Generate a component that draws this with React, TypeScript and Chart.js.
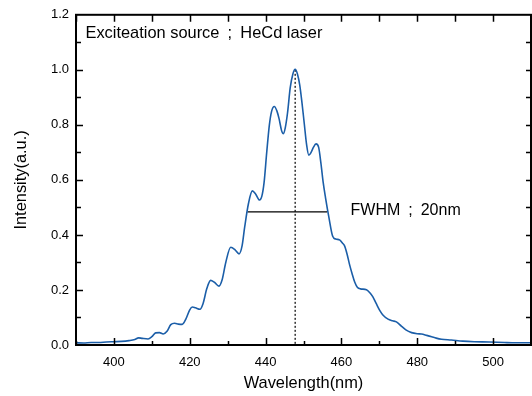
import React, { useEffect, useRef } from "react";
import { Chart, registerables } from "chart.js";

Chart.register(...registerables);

// ---- data ----
const wavelengths = [
  390, 392, 394, 396, 398, 400, 402, 404, 405.5, 406.5, 407.5, 409, 410, 411, 412, 413, 414, 415, 416, 417, 418,
  419, 420, 420.7, 421.5, 422.7, 423.5, 424.5, 425.5, 426.5, 427.7, 428.5, 429.5, 430.8, 432, 433, 433.8, 434.5,
  435.5, 436.5, 437.4, 438.4, 439, 439.6, 440.3, 441, 441.6, 442.3, 443, 443.6, 444.2, 444.7, 445.2, 445.8, 446.5,
  447.2, 447.8, 448.4, 449, 449.6, 450.2, 450.8, 451.4, 452, 452.6, 453.3, 454, 454.6, 455.2, 455.8, 456.7, 457.7,
  458.5, 459.5, 460.3, 460.8, 461.5, 462.1, 462.8, 463.5, 464.2, 465, 466.6, 467.5, 468.3, 469.2, 470.1, 471,
  472.3, 473.5, 474.5, 475.8, 477, 478.5, 480, 481.1, 482.5, 483.8, 485, 486.4, 489, 492, 495, 499, 503, 506, 510,
];
const intensities = [
  0.008, 0.007, 0.009, 0.009, 0.011, 0.012, 0.013, 0.016, 0.02, 0.026, 0.024, 0.022, 0.03, 0.044, 0.045, 0.04,
  0.05, 0.074, 0.079, 0.076, 0.075, 0.095, 0.128, 0.138, 0.135, 0.13, 0.15, 0.205, 0.235, 0.228, 0.214, 0.235,
  0.3, 0.355, 0.345, 0.331, 0.36, 0.43, 0.515, 0.56, 0.548, 0.527, 0.54, 0.59, 0.7, 0.8, 0.85, 0.867, 0.85, 0.82,
  0.78, 0.768, 0.79, 0.845, 0.935, 0.985, 1.002, 0.985, 0.945, 0.88, 0.805, 0.73, 0.69, 0.7, 0.718, 0.731, 0.718,
  0.66, 0.59, 0.536, 0.464, 0.395, 0.385, 0.382, 0.37, 0.361, 0.33, 0.295, 0.26, 0.229, 0.21, 0.204, 0.201, 0.19,
  0.175, 0.15, 0.126, 0.108, 0.094, 0.088, 0.084, 0.069, 0.055, 0.045, 0.041, 0.04, 0.035, 0.03, 0.025, 0.021,
  0.018, 0.014, 0.012, 0.011, 0.009, 0.008, 0.008,
];

const peakLineX = [447.8, 447.8];
const peakLineY = [1.0, 0];
const fwhmLineX = [435.2, 456.2];
const fwhmLineY = [0.484, 0.484];

const xRange = [390, 510];
const yRange = [0, 1.2];
const xTickLabels = [400, 420, 440, 460, 480, 500];
const yTickLabels = [0, 0.2, 0.4, 0.6, 0.8, 1.0, 1.2];
const xMinorTicks = [390, 400, 410, 420, 430, 440, 450, 460, 470, 480, 490, 500, 510];
const yMinorTicks = [0.1, 0.2, 0.3, 0.4, 0.5, 0.6, 0.7, 0.8, 0.9, 1.0, 1.1];

const xTitle = "Wavelength(nm)";
const yTitle = "Intensity(a.u.)";
const sourceNote = "Exciteation source\u2002;\u2002HeCd laser";
const sourceNoteAt = [392.5, 1.131];
const fwhmNote = "FWHM\u2002;\u200220nm";
const fwhmNoteAt = [462.4, 0.488];

const FONT = "'Liberation Sans', Arial, 'Noto Sans CJK JP', sans-serif";
const CURVE = "#1b5ea8";

const framePlugin = {
  id: "frameTicksNotes",
  afterDraw(chart: any) {
    const { ctx, chartArea: a, scales } = chart;
    const xs = scales.x;
    const ys = scales.y;
    ctx.save();
    ctx.strokeStyle = "#000";
    ctx.lineWidth = 1.5;
    ctx.beginPath();
    for (const v of xMinorTicks) {
      const px = Math.round(xs.getPixelForValue(v)) + 0.5;
      const major = xTickLabels.includes(v);
      ctx.moveTo(px, a.bottom);
      ctx.lineTo(px, a.bottom - (major ? 7 : 4));
      ctx.moveTo(px, a.top);
      ctx.lineTo(px, a.top + 7);
    }
    for (const v of yMinorTicks) {
      const py = Math.round(ys.getPixelForValue(v)) + 0.5;
      const major = yTickLabels.some((t) => Math.abs(t - v) < 1e-6);
      ctx.moveTo(a.left, py);
      ctx.lineTo(a.left + (major ? 7 : 5), py);
      ctx.moveTo(a.right, py);
      ctx.lineTo(a.right - 5, py);
    }
    ctx.stroke();
    ctx.lineWidth = 2;
    ctx.strokeRect(a.left, a.top, a.right - a.left, a.bottom - a.top);

    ctx.fillStyle = "#000";
    ctx.font = `16.4px ${FONT}`;
    ctx.textBaseline = "middle";
    ctx.textAlign = "left";
    ctx.fillText(sourceNote, xs.getPixelForValue(sourceNoteAt[0]), ys.getPixelForValue(sourceNoteAt[1]));
    ctx.font = `16px ${FONT}`;
    ctx.fillText(fwhmNote, xs.getPixelForValue(fwhmNoteAt[0]), ys.getPixelForValue(fwhmNoteAt[1]));
    ctx.restore();
  },
};

export default function App() {
  const ref = useRef<HTMLCanvasElement>(null);
  useEffect(() => {
    document.body.style.margin = "0";
    const chart = new Chart(ref.current as HTMLCanvasElement, {
      type: "line",
      data: {
        datasets: [
          {
            data: wavelengths.map((x, i) => ({ x, y: intensities[i] })),
            borderColor: CURVE,
            borderWidth: 1.6,
            pointRadius: 0,
            cubicInterpolationMode: "monotone",
            fill: false,
          },
          {
            data: peakLineX.map((x, i) => ({ x, y: peakLineY[i] })),
            borderColor: "#000",
            borderWidth: 1.2,
            borderDash: [2, 2],
            pointRadius: 0,
          },
          {
            data: fwhmLineX.map((x, i) => ({ x, y: fwhmLineY[i] })),
            borderColor: "#000",
            borderWidth: 1.2,
            pointRadius: 0,
          },
        ],
      },
      options: {
        responsive: false,
        animation: false,
        events: [],
        layout: { padding: { top: 13, right: 1, left: 0, bottom: 0 } },
        plugins: { legend: { display: false }, tooltip: { enabled: false } },
        scales: {
          x: {
            type: "linear",
            min: xRange[0],
            max: xRange[1],
            grid: { display: false, drawTicks: false },
            border: { display: false },
            afterBuildTicks: (s: any) => {
              s.ticks = xTickLabels.map((v) => ({ value: v }));
            },
            afterFit: (s: any) => {
              s.height = 51;
            },
            ticks: {
              autoSkip: false,
              maxRotation: 0,
              padding: 10,
              color: "#000",
              font: { family: FONT, size: 13 },
              callback: (v: any) => String(v),
            },
            title: {
              display: true,
              text: xTitle,
              color: "#000",
              font: { family: FONT, size: 16.4 },
              padding: { top: 0, bottom: 3 },
            },
          },
          y: {
            type: "linear",
            min: yRange[0],
            max: yRange[1],
            grid: { display: false, drawTicks: false },
            border: { display: false },
            afterBuildTicks: (s: any) => {
              s.ticks = yTickLabels.map((v) => ({ value: v }));
            },
            afterFit: (s: any) => {
              s.width = 76;
            },
            ticks: {
              autoSkip: false,
              padding: 7,
              color: "#000",
              font: { family: FONT, size: 13 },
              callback: (v: any) => Number(v).toFixed(1),
            },
            title: {
              display: true,
              text: yTitle,
              color: "#000",
              font: { family: FONT, size: 16.4 },
              padding: { top: 12, bottom: 0 },
            },
          },
        },
      },
      plugins: [framePlugin],
    } as any);
    return () => chart.destroy();
  }, []);
  return (
    <div style={{ position: "fixed", left: 0, top: 0, width: 532, height: 396, background: "#fff" }}>
      <canvas ref={ref} width={532} height={396} style={{ display: "block" }} />
    </div>
  );
}
